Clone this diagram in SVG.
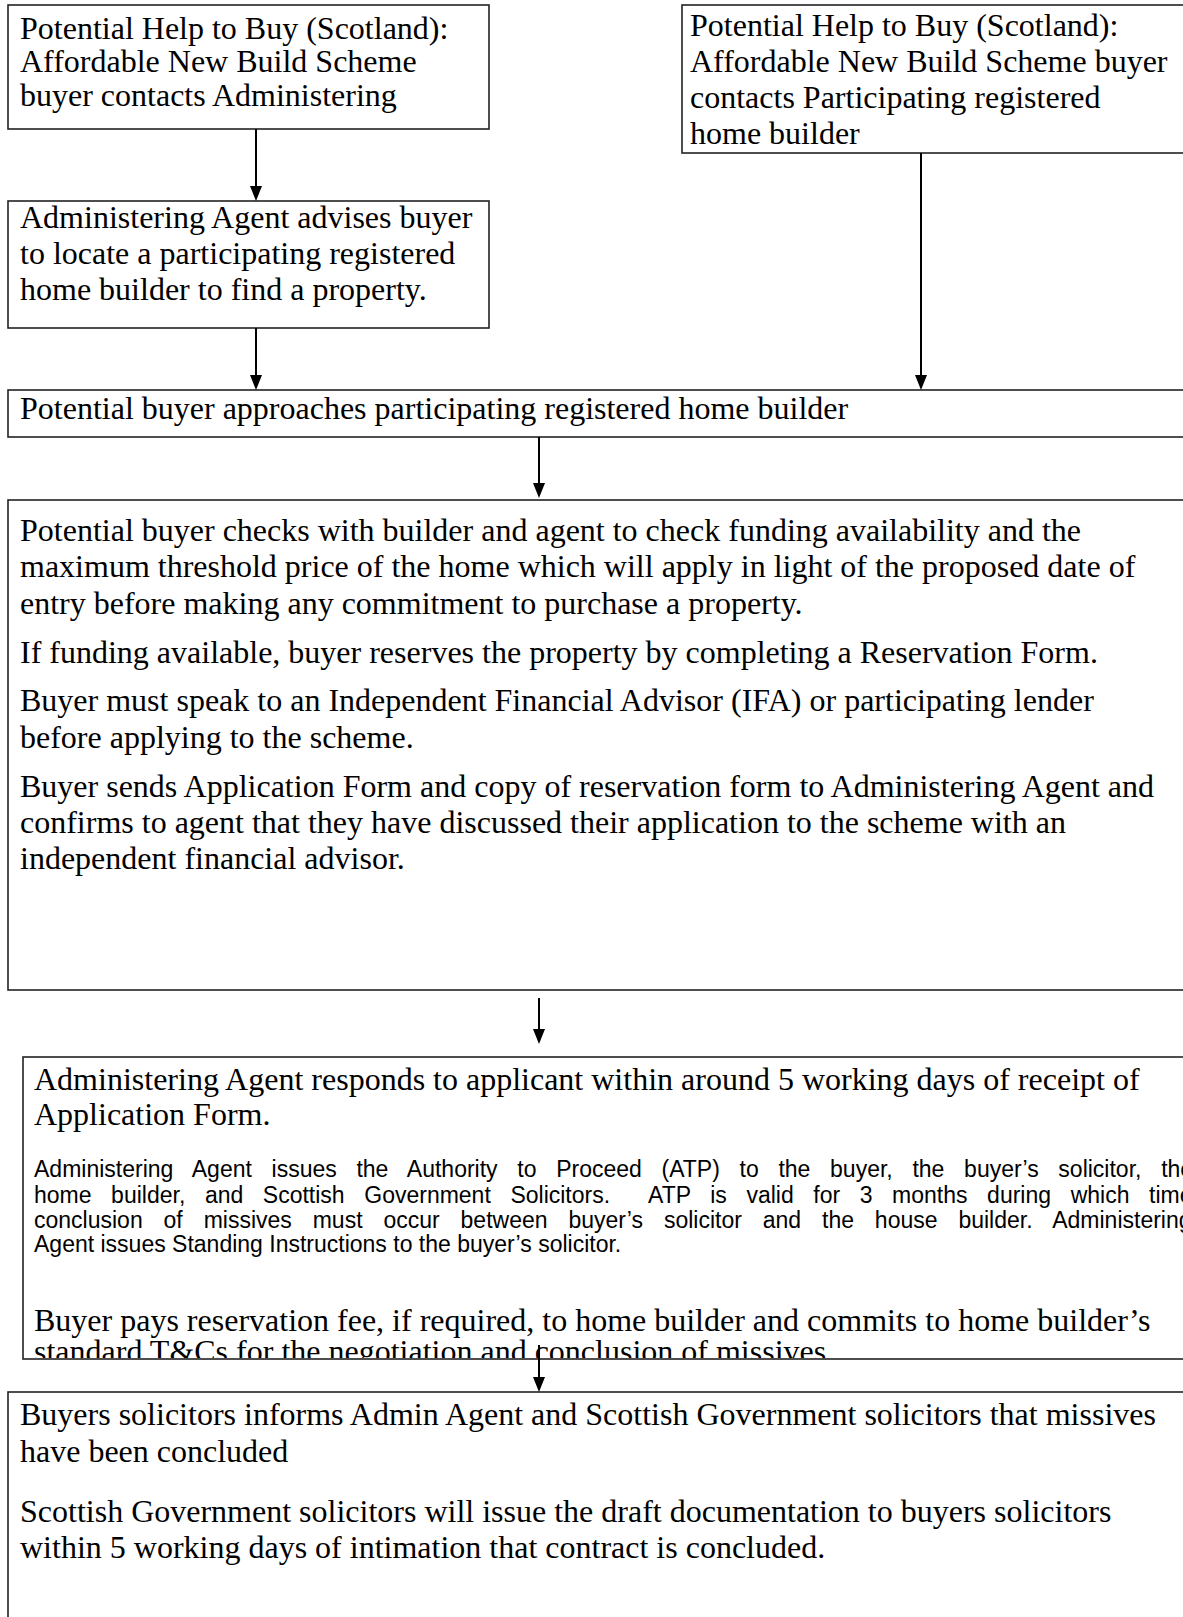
<svg xmlns="http://www.w3.org/2000/svg" width="1183" height="1617" viewBox="0 0 1183 1617">
<defs>
<style>
.box{fill:#fff;stroke:#222;stroke-width:1.6}
.t{font-family:"Liberation Serif","Times New Roman",serif;font-size:32px;fill:#000}
.s{font-family:"Liberation Sans",Arial,sans-serif;font-size:23px;fill:#000}
.c{stroke:#000;stroke-width:2;fill:none}
.h{fill:#000;stroke:none}
</style>
<clipPath id="clip6"><rect x="22" y="1057" width="1161" height="301"/></clipPath>
</defs>
<rect width="1183" height="1617" fill="#fff"/>
<g id="n1">
<rect class="box" x="8" y="5" width="481" height="124"/>
<text class="t"><tspan x="20" y="39">Potential Help to Buy (Scotland):</tspan><tspan x="20" y="72">Affordable New Build Scheme</tspan><tspan x="20" y="106">buyer contacts Administering</tspan></text>
</g>
<g id="n2">
<rect class="box" x="682" y="5" width="520" height="148"/>
<text class="t"><tspan x="690" y="36">Potential Help to Buy (Scotland):</tspan><tspan x="690" y="72">Affordable New Build Scheme buyer</tspan><tspan x="690" y="108">contacts Participating registered</tspan><tspan x="690" y="144">home builder</tspan></text>
</g>
<g id="n3">
<rect class="box" x="8" y="201" width="481" height="127"/>
<text class="t"><tspan x="20" y="228">Administering Agent advises buyer</tspan><tspan x="20" y="264">to locate a participating registered</tspan><tspan x="20" y="300">home builder to find a property.</tspan></text>
</g>
<g id="n4">
<rect class="box" x="8" y="390" width="1194" height="47"/>
<text class="t" x="20" y="419">Potential buyer approaches participating registered home builder</text>
</g>
<g id="n5">
<rect class="box" x="8" y="500" width="1194" height="490"/>
<text class="t"><tspan x="20" y="541">Potential buyer checks with builder and agent to check funding availability and the</tspan><tspan x="20" y="577">maximum threshold price of the home which will apply in light of the proposed date of</tspan><tspan x="20" y="614">entry before making any commitment to purchase a property.</tspan><tspan x="20" y="663">If funding available, buyer reserves the property by completing a Reservation Form.</tspan><tspan x="20" y="711">Buyer must speak to an Independent Financial Advisor (IFA) or participating lender</tspan><tspan x="20" y="748">before applying to the scheme.</tspan><tspan x="20" y="797">Buyer sends Application Form and copy of reservation form to Administering Agent and</tspan><tspan x="20" y="833">confirms to agent that they have discussed their application to the scheme with an</tspan><tspan x="20" y="869">independent financial advisor.</tspan></text>
</g>
<g id="n6">
<rect class="box" x="23" y="1057" width="1179" height="302"/>
<g clip-path="url(#clip6)">
<text class="t"><tspan x="34" y="1090">Administering Agent responds to applicant within around 5 working days of receipt of</tspan><tspan x="34" y="1125">Application Form.</tspan></text>
<text class="s" xml:space="preserve"><tspan x="34" y="1177" word-spacing="13.3">Administering Agent issues the Authority to Proceed (ATP) to the buyer, the buyer’s solicitor, the</tspan><tspan x="34" y="1203" word-spacing="13.2">home builder, and Scottish Government Solicitors.  ATP is valid for 3 months during which time</tspan><tspan x="34" y="1228" word-spacing="14.5">conclusion of missives must occur between buyer’s solicitor and the house builder. Administering</tspan><tspan x="34" y="1252">Agent issues Standing Instructions to the buyer’s solicitor.</tspan></text>
<text class="t"><tspan x="34" y="1331">Buyer pays reservation fee, if required, to home builder and commits to home builder’s</tspan><tspan x="34" y="1362">standard T&amp;Cs for the negotiation and conclusion of missives.</tspan></text>
</g>
</g>
<g id="n7">
<rect class="box" x="8" y="1392" width="1194" height="240"/>
<text class="t"><tspan x="20" y="1425">Buyers solicitors informs Admin Agent and Scottish Government solicitors that missives</tspan><tspan x="20" y="1462">have been concluded</tspan><tspan x="20" y="1522">Scottish Government solicitors will issue the draft documentation to buyers solicitors</tspan><tspan x="20" y="1558">within 5 working days of intimation that contract is concluded.</tspan></text>
</g>
<g id="connectors">
<line class="c" x1="256" y1="129" x2="256" y2="187"/><polygon class="h" points="250,186 262,186 256,201"/>
<line class="c" x1="256" y1="328" x2="256" y2="376"/><polygon class="h" points="250,375 262,375 256,390"/>
<line class="c" x1="921" y1="153" x2="921" y2="376"/><polygon class="h" points="915,375 927,375 921,390"/>
<line class="c" x1="539" y1="437" x2="539" y2="484"/><polygon class="h" points="533,483 545,483 539,498"/>
<line class="c" x1="539" y1="998" x2="539" y2="1030"/><polygon class="h" points="533,1029 545,1029 539,1044"/>
<line class="c" x1="539" y1="1345" x2="539" y2="1378"/><polygon class="h" points="533,1377 545,1377 539,1392"/>
</g>
</svg>
